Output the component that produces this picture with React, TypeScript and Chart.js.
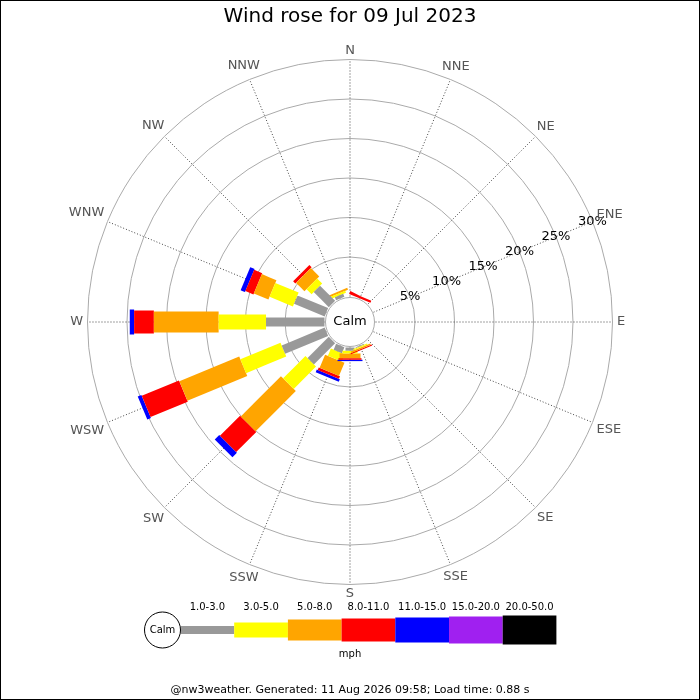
import React, { useEffect, useRef } from "react";
import { Chart, registerables } from "chart.js";

Chart.register(...registerables);

// ---- Data ----
const TITLE = "Wind rose for 09 Jul 2023";
const FOOTER = "@nw3weather. Generated: 11 Aug 2026 09:58; Load time: 0.88 s";
const UNIT_LABEL = "mph";
const CALM_LABEL = "Calm";

const DIRECTIONS = ["N", "NNE", "NE", "ENE", "E", "ESE", "SE", "SSE", "S", "SSW", "SW", "WSW", "W", "WNW", "NW", "NNW"];
const SPEED_BINS = ["1.0-3.0", "3.0-5.0", "5.0-8.0", "8.0-11.0", "11.0-15.0", "15.0-20.0", "20.0-50.0"];
const RING_TICKS = [5, 10, 15, 20, 25, 30];

// percent of time per direction (N, NNE, ... NNW) for each speed bin
const bin1to3 = [0, 0, 0, 0, 0, 0, 0, 0.1, 0.4, 0.8, 3.8, 5.9, 7.4, 4.2, 2.7, 0.4];
const bin3to5 = [0, 0, 0, 0, 0, 0, 0, 0.15, 0.35, 1.0, 4.0, 5.5, 6.0, 3.2, 0.9, 0.25];
const bin5to8 = [0, 0, 0, 0, 0, 0, 0, 0.2, 0.6, 1.8, 7.2, 8.2, 8.2, 2.0, 1.5, 0.25];
const bin8to11 = [0, 0.3, 0, 0, 0, 0, 0, 0.15, 0.2, 0.35, 3.6, 5.1, 2.5, 1.1, 0.4, 0];
const bin11to15 = [0, 0, 0, 0, 0, 0, 0, 0, 0.17, 0.35, 0.8, 0.5, 0.55, 0.6, 0, 0];
const bin15to20 = [0, 0, 0, 0, 0, 0, 0, 0, 0, 0, 0, 0, 0, 0, 0, 0];
const bin20to50 = [0, 0, 0, 0, 0, 0, 0, 0, 0, 0, 0, 0, 0, 0, 0, 0];

const BIN_VALUES = [bin1to3, bin3to5, bin5to8, bin8to11, bin11to15, bin15to20, bin20to50];

// ---- Styles ----
const BIN_COLORS = ["#999999", "#ffff00", "#ffa500", "#ff0000", "#0000ff", "#a020f0", "#000000"];
const BIN_WIDTHS = [9, 15, 21, 23, 25, 27, 29];
const FONT = '"DejaVu Sans", sans-serif';
const CALM_OFFSET = 3.23; // radial offset (in % units) for the calm circle
const MAX_PCT = 30;
const RMAX = CALM_OFFSET + MAX_PCT;

function buildDatasets() {
  const datasets: any[] = [];
  DIRECTIONS.forEach((_, d) => {
    const theta = (d * 22.5 * Math.PI) / 180;
    const s = Math.sin(theta);
    const c = Math.cos(theta);
    let cum = 0;
    BIN_VALUES.forEach((vals, b) => {
      const v = vals[d];
      if (v > 0) {
        const r0 = CALM_OFFSET + cum;
        const r1 = CALM_OFFSET + cum + v;
        datasets.push({
          label: DIRECTIONS[d] + " " + SPEED_BINS[b],
          data: [
            { x: r0 * s, y: r0 * c },
            { x: r1 * s, y: r1 * c },
          ],
          showLine: true,
          borderColor: BIN_COLORS[b],
          backgroundColor: BIN_COLORS[b],
          borderWidth: BIN_WIDTHS[b],
          borderCapStyle: "butt",
          borderJoinStyle: "bevel",
          cubicInterpolationMode: "monotone",
          pointRadius: 0,
          pointHoverRadius: 0,
          fill: false,
          clip: false,
        });
      }
      cum += v;
    });
  });
  return datasets;
}

const rosePlugin = {
  id: "rose",
  beforeDatasetsDraw(chart: any) {
    const ctx = chart.ctx;
    const xs = chart.scales.x;
    const ys = chart.scales.y;
    const cx = xs.getPixelForValue(0);
    const cy = ys.getPixelForValue(0);
    const rpx = (v: number) => xs.getPixelForValue(v) - cx;
    ctx.save();
    // rings
    ctx.strokeStyle = "#aaaaaa";
    ctx.lineWidth = 1;
    RING_TICKS.forEach((t) => {
      ctx.beginPath();
      ctx.arc(cx, cy, rpx(CALM_OFFSET + t), 0, Math.PI * 2);
      ctx.stroke();
    });
    // spokes
    ctx.strokeStyle = "#444444";
    ctx.setLineDash([1, 2]);
    const rIn = rpx(CALM_OFFSET);
    const rOut = rpx(RMAX);
    DIRECTIONS.forEach((_, d) => {
      const th = (d * 22.5 * Math.PI) / 180;
      ctx.beginPath();
      ctx.moveTo(cx + rIn * Math.sin(th), cy - rIn * Math.cos(th));
      ctx.lineTo(cx + rOut * Math.sin(th), cy - rOut * Math.cos(th));
      ctx.stroke();
    });
    ctx.restore();
  },
  afterDatasetsDraw(chart: any) {
    const ctx = chart.ctx;
    const xs = chart.scales.x;
    const ys = chart.scales.y;
    const cx = xs.getPixelForValue(0);
    const cy = ys.getPixelForValue(0);
    const rpx = (v: number) => xs.getPixelForValue(v) - cx;
    ctx.save();
    // calm circle
    ctx.beginPath();
    ctx.arc(cx, cy, rpx(CALM_OFFSET) - 1, 0, Math.PI * 2);
    ctx.fillStyle = "#ffffff";
    ctx.fill();
    ctx.strokeStyle = "#aaaaaa";
    ctx.lineWidth = 1;
    ctx.stroke();
    ctx.fillStyle = "#000000";
    ctx.font = "13px " + FONT;
    ctx.textAlign = "center";
    ctx.textBaseline = "middle";
    ctx.fillText(CALM_LABEL, cx, cy);

    // ring labels along ENE
    const thL = (67.5 * Math.PI) / 180;
    RING_TICKS.forEach((t) => {
      const r = rpx(CALM_OFFSET + t);
      ctx.fillText(t + "%", cx + r * Math.sin(thL), cy - r * Math.cos(thL));
    });

    // compass labels
    ctx.fillStyle = "#555555";
    const rOut = rpx(RMAX) + 4.5;
    DIRECTIONS.forEach((name, d) => {
      const th = (d * 22.5 * Math.PI) / 180;
      const ux = Math.sin(th);
      const uy = -Math.cos(th);
      const hw = ctx.measureText(name).width / 2;
      const hh = 4.75;
      const r = rOut + hw * Math.abs(ux) + hh * Math.abs(uy);
      ctx.fillText(name, cx + r * ux, cy + r * uy);
    });
    ctx.restore();
  },
  afterDraw(chart: any) {
    const ctx = chart.ctx;
    ctx.save();
    ctx.textAlign = "center";
    ctx.textBaseline = "middle";
    // title
    ctx.fillStyle = "#000000";
    ctx.font = "20px " + FONT;
    ctx.fillText(TITLE, 350, 17);

    // legend
    const legY = 630;
    const segW = 53.7;
    const segX0 = 180.5;
    ctx.font = "10px " + FONT;
    SPEED_BINS.forEach((lab, b) => {
      const x0 = segX0 + b * segW;
      const h = BIN_WIDTHS[b] - (b === 0 ? 1 : 0);
      ctx.fillStyle = BIN_COLORS[b];
      ctx.fillRect(x0, legY - h / 2, segW, h);
      ctx.fillStyle = "#000000";
      ctx.fillText(lab, x0 + segW / 2, 607);
    });
    ctx.beginPath();
    ctx.arc(162.5, legY, 18, 0, Math.PI * 2);
    ctx.fillStyle = "#ffffff";
    ctx.fill();
    ctx.strokeStyle = "#000000";
    ctx.lineWidth = 1;
    ctx.stroke();
    ctx.fillStyle = "#000000";
    ctx.fillText(CALM_LABEL, 162.5, legY);
    ctx.fillText(UNIT_LABEL, 350, 654);

    // footer
    ctx.font = "11px " + FONT;
    ctx.fillText(FOOTER, 350, 690);

    // border
    ctx.strokeStyle = "#000000";
    ctx.lineWidth = 1;
    ctx.strokeRect(0.5, 0.5, 699, 699);
    ctx.restore();
  },
};

export default function App() {
  const canvasRef = useRef<HTMLCanvasElement | null>(null);

  useEffect(() => {
    document.body.style.margin = "0";
    const canvas = canvasRef.current;
    if (!canvas) return;
    const chart = new Chart(canvas, {
      type: "scatter",
      data: { datasets: buildDatasets() },
      options: {
        responsive: false,
        animation: false,
        maintainAspectRatio: false,
        layout: {
          padding: { left: 87.5, right: 87.5, top: 59.5, bottom: 115.5 },
        },
        scales: {
          x: { type: "linear", min: -RMAX, max: RMAX, display: false },
          y: { type: "linear", min: -RMAX, max: RMAX, display: false },
        },
        plugins: {
          legend: { display: false },
          tooltip: { enabled: false },
          title: { display: false },
        },
        events: [],
      },
      plugins: [rosePlugin],
    } as any);
    return () => chart.destroy();
  }, []);

  return (
    <div style={{ width: 700, height: 700, background: "#ffffff" }}>
      <canvas ref={canvasRef} width={700} height={700} style={{ display: "block", width: 700, height: 700 }} />
    </div>
  );
}
